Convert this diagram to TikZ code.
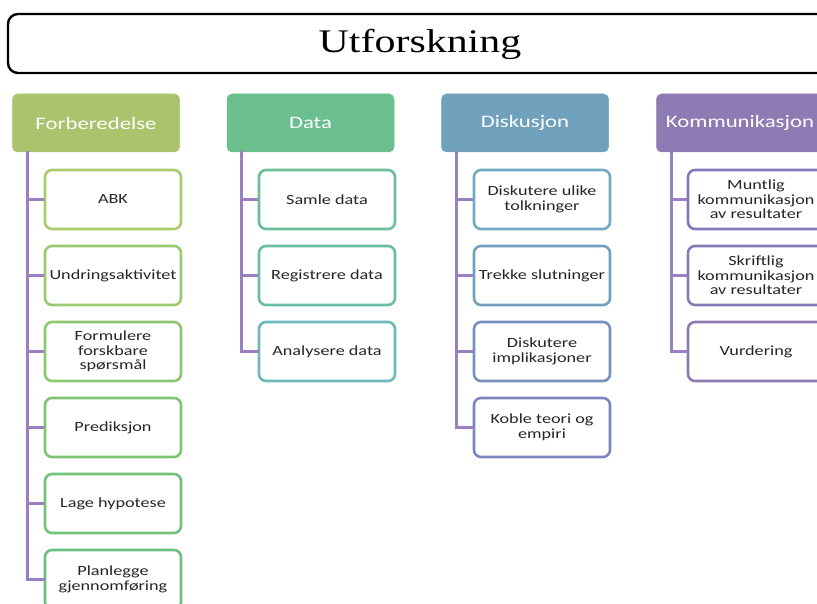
\documentclass[tikz,border=0pt]{standalone}
\usepackage{fontspec}
\setmainfont{Carlito}[FakeStretch=1.3]
\newfontfamily\titlefont{Liberation Serif}[FakeStretch=1.27]
\definecolor{cHeadA}{HTML}{A9C46C}
\definecolor{cHeadB}{HTML}{6BBE8E}
\definecolor{cHeadC}{HTML}{70A1BC}
\definecolor{cHeadD}{HTML}{8F7BB3}
\definecolor{cLink}{HTML}{9A80C0}
\definecolor{cA1}{HTML}{A8CB6C}
\definecolor{cA2}{HTML}{9BCA6E}
\definecolor{cA3}{HTML}{8DC770}
\definecolor{cA4}{HTML}{7EC474}
\definecolor{cA5}{HTML}{72C27A}
\definecolor{cA6}{HTML}{6AC080}
\definecolor{cB1}{HTML}{6ABF98}
\definecolor{cB2}{HTML}{69BDA8}
\definecolor{cB3}{HTML}{6BB9B8}
\definecolor{cC1}{HTML}{6FABC2}
\definecolor{cC2}{HTML}{72A0C0}
\definecolor{cC3}{HTML}{7791BE}
\definecolor{cC4}{HTML}{7B86BC}
\definecolor{cD1}{HTML}{8379B9}
\definecolor{cD2}{HTML}{897AB6}
\definecolor{cD3}{HTML}{8F7BB3}
\tikzset{
  x=1pt, y=-1pt,
  titlebox/.style={draw=black, line width=2.4pt, rounded corners=10pt, fill=white},
  headbox/.style={fill=#1, draw=#1, line width=0.5pt, rounded corners=5pt,
    minimum width=167pt, minimum height=58pt, inner sep=0pt,
    text=white, font=\fontsize{17.5}{20}\selectfont},
  leafbox/.style={draw=#1, line width=2.6pt, rounded corners=7pt, fill=white,
    minimum width=136pt, minimum height=59pt, inner sep=1pt, align=center,
    text=black!85, font=\fontsize{14}{14.5}\selectfont},
  link/.style={draw=cLink, line width=2.6pt},
}
\begin{document}
\begin{tikzpicture}
\useasboundingbox (0,0) rectangle (817,604);
\clip (0,0) rectangle (817,604);

% title bar
\draw[titlebox] (8,14) rectangle (840,73);
\node[font=\titlefont\fontsize{33}{36}\selectfont] (title) at (420,44) {Utforskning};

% column heads
\node[headbox=cHeadA] (hA) at (96,123) {Forberedelse};
\node[headbox=cHeadB] (hB) at (310.5,123) {Data};
\node[headbox=cHeadC] (hC) at (525,123) {Diskusjon};
\node[headbox=cHeadD] (hD) at (740,123) {Kommunikasjon};

% Forberedelse
\node[leafbox=cA1] (a1) at (113,199.5) {ABK};
\node[leafbox=cA2] (a2) at (113,275.5) {Undringsaktivitet};
\node[leafbox=cA3] (a3) at (113,351.5) {Formulere\\forskbare\\spørsmål};
\node[leafbox=cA4] (a4) at (113,427.5) {Prediksjon};
\node[leafbox=cA5] (a5) at (113,503.5) {Lage hypotese};
\node[leafbox=cA6] (a6) at (113,579.5) {Planlegge\\gjennomføring};

% Data
\node[leafbox=cB1] (b1) at (327,199.5) {Samle data};
\node[leafbox=cB2] (b2) at (327,275.5) {Registrere data};
\node[leafbox=cB3] (b3) at (327,351.5) {Analysere data};

% Diskusjon
\node[leafbox=cC1] (c1) at (542,199.5) {Diskutere ulike\\tolkninger};
\node[leafbox=cC2] (c2) at (542,275.5) {Trekke slutninger};
\node[leafbox=cC3] (c3) at (542,351.5) {Diskutere\\implikasjoner};
\node[leafbox=cC4] (c4) at (542,427.5) {Koble teori og\\empiri};

% Kommunikasjon
\node[leafbox=cD1] (d1) at (756,199.5) {Muntlig\\kommunikasjon\\av resultater};
\node[leafbox=cD2] (d2) at (756,275.5) {Skriftlig\\kommunikasjon\\av resultater};
\node[leafbox=cD3] (d3) at (756,351.5) {Vurdering};

% tree links: trunk under each head, branch into each leaf
\foreach \h/\lst/\last in {hA/{a1,a2,a3,a4,a5,a6}/a6, hB/{b1,b2,b3}/b3, hC/{c1,c2,c3,c4}/c4, hD/{d1,d2,d3}/d3}{
  \draw[link, line cap=rect] ([xshift=15pt]\h.south west) |- (\last.west);
  \foreach \n in \lst {
    \draw[link] ([xshift=15pt]\h.south west |- \n.west) -- (\n.west);
  }
}
\end{tikzpicture}
\end{document}
